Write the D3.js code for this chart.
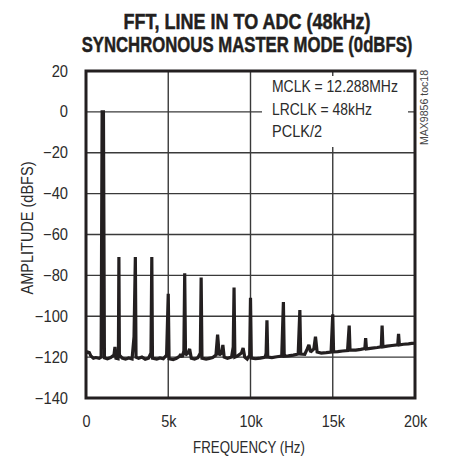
<!DOCTYPE html>
<html><head><meta charset="utf-8">
<script src="https://cdn.jsdelivr.net/npm/d3@7"></script>
<style>
html,body{margin:0;padding:0;background:#fff;}
svg text{font-family:"Liberation Sans","Arial",sans-serif;}
</style></head>
<body>
<svg id="c" width="449" height="467"></svg>
<script>
// ---- data ----
const titleLines = ["FFT, LINE IN TO ADC (48kHz)", "SYNCHRONOUS MASTER MODE (0dBFS)"];
const xTicks = [0, 5000, 10000, 15000, 20000];
const xTickLabels = ["0", "5k", "10k", "15k", "20k"];
const yTicks = [20, 0, -20, -40, -60, -80, -100, -120, -140];
const annotation = ["MCLK = 12.288MHz", "LRCLK = 48kHz", "PCLK/2"];
const sideNote = "MAX9856 toc18";
// FFT trace: frequency (kHz) and amplitude (dBFS)
const freqKHz = [0.00,0.10,0.20,0.30,0.45,0.60,0.80,0.92,0.98,1.06,1.12,1.30,1.50,1.70,1.76,1.82,1.95,1.97,2.00,2.03,2.20,2.40,2.60,2.80,2.92,3.00,3.04,3.20,3.40,3.60,3.80,3.95,4.00,4.04,4.30,4.50,4.70,4.90,5.00,5.05,5.30,5.50,5.70,5.75,5.85,5.95,6.00,6.05,6.20,6.30,6.40,6.60,6.80,6.95,7.00,7.05,7.30,7.50,7.70,7.90,8.00,8.10,8.25,8.32,8.40,8.60,8.85,8.95,9.00,9.05,9.20,9.45,9.55,9.65,9.80,9.95,10.00,10.05,10.30,10.60,10.90,10.95,11.00,11.05,11.30,11.60,11.90,12.00,12.05,12.30,12.60,12.90,13.00,13.05,13.30,13.45,13.55,13.65,13.85,13.95,14.05,14.30,14.60,14.90,15.00,15.05,15.30,15.60,15.90,16.00,16.05,16.40,16.70,16.95,17.00,17.05,17.40,17.70,17.95,18.00,18.05,18.30,18.60,18.95,19.00,19.05,19.30,19.60,19.80,20.00];
const ampDB = [-118,-117.5,-117.8,-119.5,-120.5,-120.2,-120.6,-120,0,0,-120.3,-120.8,-120.2,-119,-115,-120.5,-120.8,-118,-71,-119,-120.5,-121,-120.4,-120.9,-110,-71,-120,-120.6,-120,-121,-120.5,-118,-71,-120.5,-121,-120.4,-120.8,-119,-89,-120.8,-121.2,-120.6,-119.5,-118.5,-120,-117,-79,-119,-118,-116,-120.5,-121,-120.3,-118,-81,-120.5,-121,-120.6,-120.2,-119,-109,-119,-118,-114,-120,-120.6,-120,-115,-86,-120,-119.5,-118,-115.5,-120,-121,-119,-91,-120.5,-120.8,-120.5,-120,-118,-102,-120,-120.2,-119.8,-119.5,-93,-119.6,-119.4,-119,-118.5,-97,-118.5,-118.6,-116,-114,-117.5,-116,-110,-117.5,-118,-117.8,-117.5,-99,-117.4,-117.3,-117,-116.8,-104.6,-116.6,-116.6,-116.2,-115.8,-110.7,-116,-115.6,-115.3,-115,-104.6,-115,-114.6,-114.3,-114,-108.6,-114,-113.7,-113.5,-113.3,-113.2];

// ---- layout ----
const svg = d3.select("#c");
const L = 86, T = 71, R = 415, B = 398;
const x = d3.scaleLinear().domain([0, 20000]).range([L, R]);
const y = d3.scaleLinear().domain([-140, 20]).range([B, T]);
const ink = "#231f20", txt = "#2b2b2b";

// place a text at (tx,ty) with rotation, squeezed horizontally to a target width
function squeezed(parent, str, tx, ty, target, anchor, rot, styleFn) {
  const gg = parent.append("g");
  const t = gg.append("text").attr("x", 0).attr("y", 0).attr("text-anchor", anchor).text(str);
  styleFn(t);
  const k = target / t.node().getComputedTextLength();
  gg.attr("transform", `translate(${tx},${ty}) rotate(${rot}) scale(${k},1)`);
  return t;
}

// title
const titleW = [247, 331];
titleLines.forEach((s, i) => squeezed(svg, s, 247, 28.5 + i*23.5, titleW[i], "middle", 0, t => t
  .style("font-size","22.5px").style("font-weight","bold")
  .attr("fill", ink).attr("stroke", ink).attr("stroke-width", 0.5)));

// grid
const g = svg.append("g");
g.selectAll("line.vg").data(xTicks.slice(1,-1)).join("line")
  .attr("x1", d=>x(d)).attr("x2", d=>x(d)).attr("y1", T).attr("y2", B)
  .attr("stroke", "#3a3a3a").attr("stroke-width", 1.4);
g.selectAll("line.hg").data(yTicks.slice(1,-1)).join("line")
  .attr("x1", L).attr("x2", R).attr("y1", d=>y(d)).attr("y2", d=>y(d))
  .attr("stroke", "#3a3a3a").attr("stroke-width", 1.4);

// annotation background + text
svg.append("rect").attr("x", 262).attr("y", 76).attr("width", 146).attr("height", 71).attr("fill","#fff");
const annW = [126, 100, 50];
annotation.forEach((s, i) => squeezed(svg, s, 272, 92 + i*22.5, annW[i], "start", 0, t => t
  .style("font-size","16px").attr("fill", txt)));

// trace
const pts = freqKHz.map((f,i)=>[f*1000, ampDB[i]]);
svg.append("path").datum(pts)
  .attr("d", d3.line().x(d=>x(d[0])).y(d=>y(d[1])))
  .attr("fill","none").attr("stroke", ink).attr("stroke-width", 3.2)
  .attr("stroke-linejoin","miter").attr("stroke-miterlimit", 2);

// frame
svg.append("rect").attr("x", L).attr("y", T).attr("width", R-L).attr("height", B-T)
  .attr("fill","none").attr("stroke", ink).attr("stroke-width", 3);

// axes (labels only)
const xAxis = d3.axisBottom(x).tickValues(xTicks).tickFormat((d,i)=>xTickLabels[i]).tickSize(0).tickPadding(18);
const xg = svg.append("g").attr("transform", `translate(0,${B})`).call(xAxis);
xg.select(".domain").remove();
xg.selectAll("text").style("font-size","16px").attr("fill", txt).style("font-family",null)
  .attr("transform","scale(0.9,1)");

const yAxis = d3.axisLeft(y).tickValues(yTicks).tickFormat(d3.format("d")).tickSize(0).tickPadding(0);
const yg = svg.append("g").attr("transform", `translate(${L-18},0)`).call(yAxis);
yg.select(".domain").remove();
yg.selectAll("text").style("font-size","16px").attr("fill", txt).style("font-family",null)
  .attr("x", 0).attr("transform","scale(0.92,1)");

// axis titles
squeezed(svg, "FREQUENCY (Hz)", 249, 453, 112, "middle", 0, t => t.style("font-size","16px").attr("fill", txt));
squeezed(svg, "AMPLITUDE (dBFS)", 33, 228, 133, "middle", -90, t => t.style("font-size","16px").attr("fill", txt));

// side note
squeezed(svg, sideNote, 428, 70, 75, "end", -90, t => t.style("font-size","11px").attr("fill", "#444"));
</script>
</body></html>
